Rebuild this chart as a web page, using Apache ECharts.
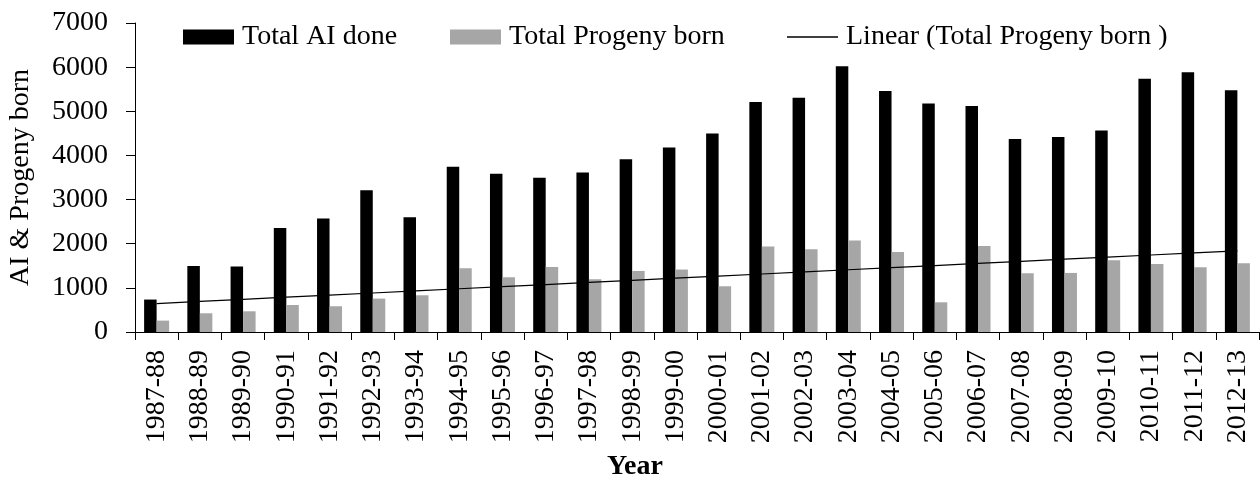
<!DOCTYPE html>
<html>
<head>
<meta charset="utf-8">
<script src="https://cdn.jsdelivr.net/npm/echarts@6/dist/echarts.min.js"></script>
<style>
  html, body { margin: 0; padding: 0; background: #fff; }
  #chart { width: 1260px; height: 481px; }
</style>
</head>
<body>
<div id="chart"></div>
<script>
var years = ['1987-88', '1988-89', '1989-90', '1990-91', '1991-92', '1992-93', '1993-94',
  '1994-95', '1995-96', '1996-97', '1997-98', '1998-99', '1999-00', '2000-01', '2001-02',
  '2002-03', '2003-04', '2004-05', '2005-06', '2006-07', '2007-08', '2008-09', '2009-10',
  '2010-11', '2011-12', '2012-13'];

var aiDone = [735, 1497, 1483, 2358, 2571, 3213, 2601, 3741, 3583, 3492, 3614, 3916, 4181,
  4498, 5209, 5306, 6018, 5458, 5179, 5118, 4370, 4415, 4567, 5737, 5882, 5474];

var progenyBorn = [258, 424, 469, 612, 583, 757, 832, 1444, 1240, 1474, 1195, 1383, 1415,
  1036, 1936, 1875, 2072, 1814, 673, 1950, 1331, 1338, 1626, 1542, 1467, 1558];

var yTicks = [0, 1000, 2000, 3000, 4000, 5000, 6000, 7000];

// linear trend of progeny born (least squares, like the spreadsheet trendline)
function linearTrend(values) {
  var n = values.length, sx = 0, sy = 0, sxy = 0, sxx = 0;
  values.forEach(function (v, i) {
    sx += i; sy += v; sxy += i * v; sxx += i * i;
  });
  var b = (n * sxy - sx * sy) / (n * sxx - sx * sx);
  var a = (sy - b * sx) / n;
  return values.map(function (v, i) { return +(a + b * i).toFixed(1); });
}

var font = "'Liberation Serif', 'Times New Roman', serif";
var myChart = echarts.init(document.getElementById('chart'));

var legendBase = {
  top: 23,
  padding: 0,
  itemWidth: 51,
  itemHeight: 15,
  selectedMode: false,
  icon: 'rect',
  textStyle: { fontFamily: font, fontSize: 28, color: '#000', padding: [0, 0, 0, 3] }
};

myChart.setOption({
  animation: false,
  backgroundColor: '#fff',
  textStyle: { fontFamily: font },
  title: {
    text: 'Year',
    left: 607,
    top: 453,
    padding: 0,
    textStyle: { fontFamily: font, fontSize: 28, fontWeight: 'bold', color: '#000' }
  },
  legend: [
    Object.assign({}, legendBase, { left: 183, data: ['Total AI done'] }),
    Object.assign({}, legendBase, { left: 450, data: ['Total Progeny born'] }),
    Object.assign({}, legendBase, {
      left: 787,
      data: [{ name: 'Linear (Total Progeny born )', icon: 'path://M0,0L51,0L51,1.4L0,1.4Z' }]
    })
  ],
  grid: { left: 135, right: 1, top: 23, bottom: 149, containLabel: false, outerBoundsMode: 'none' },
  xAxis: {
    type: 'category',
    data: years,
    boundaryGap: true,
    axisLine: { lineStyle: { color: '#000', width: 1 } },
    axisTick: { show: true, length: 8, alignWithLabel: false, lineStyle: { color: '#000' } },
    axisLabel: {
      rotate: 90, margin: 18, interval: 0,
      fontFamily: font, fontSize: 28, color: '#000'
    }
  },
  yAxis: {
    type: 'value',
    min: yTicks[0],
    max: yTicks[yTicks.length - 1],
    interval: 1000,
    name: 'AI & Progeny born',
    nameLocation: 'middle',
    nameRotate: 90,
    nameGap: 100,
    nameTextStyle: { fontFamily: font, fontSize: 28, color: '#000' },
    axisLine: { show: true, lineStyle: { color: '#000', width: 1 } },
    axisTick: { show: true, length: 9, lineStyle: { color: '#000' } },
    splitLine: { show: false },
    axisLabel: {
      margin: 27, fontFamily: font, fontSize: 28, color: '#000',
      formatter: function (v) { return String(v); }
    }
  },
  series: [
    {
      name: 'Total AI done',
      type: 'bar',
      data: aiDone,
      barWidth: 12.5,
      barGap: '0%',
      itemStyle: { color: '#000' }
    },
    {
      name: 'Total Progeny born',
      type: 'bar',
      data: progenyBorn,
      barWidth: 12.5,
      barGap: '0%',
      itemStyle: { color: '#a6a6a6' }
    },
    {
      name: 'Linear (Total Progeny born )',
      type: 'line',
      data: linearTrend(progenyBorn),
      symbol: 'none',
      showSymbol: false,
      z: 5,
      lineStyle: { color: '#000', width: 1.2 },
      itemStyle: { color: '#000' }
    }
  ]
});
</script>
</body>
</html>
